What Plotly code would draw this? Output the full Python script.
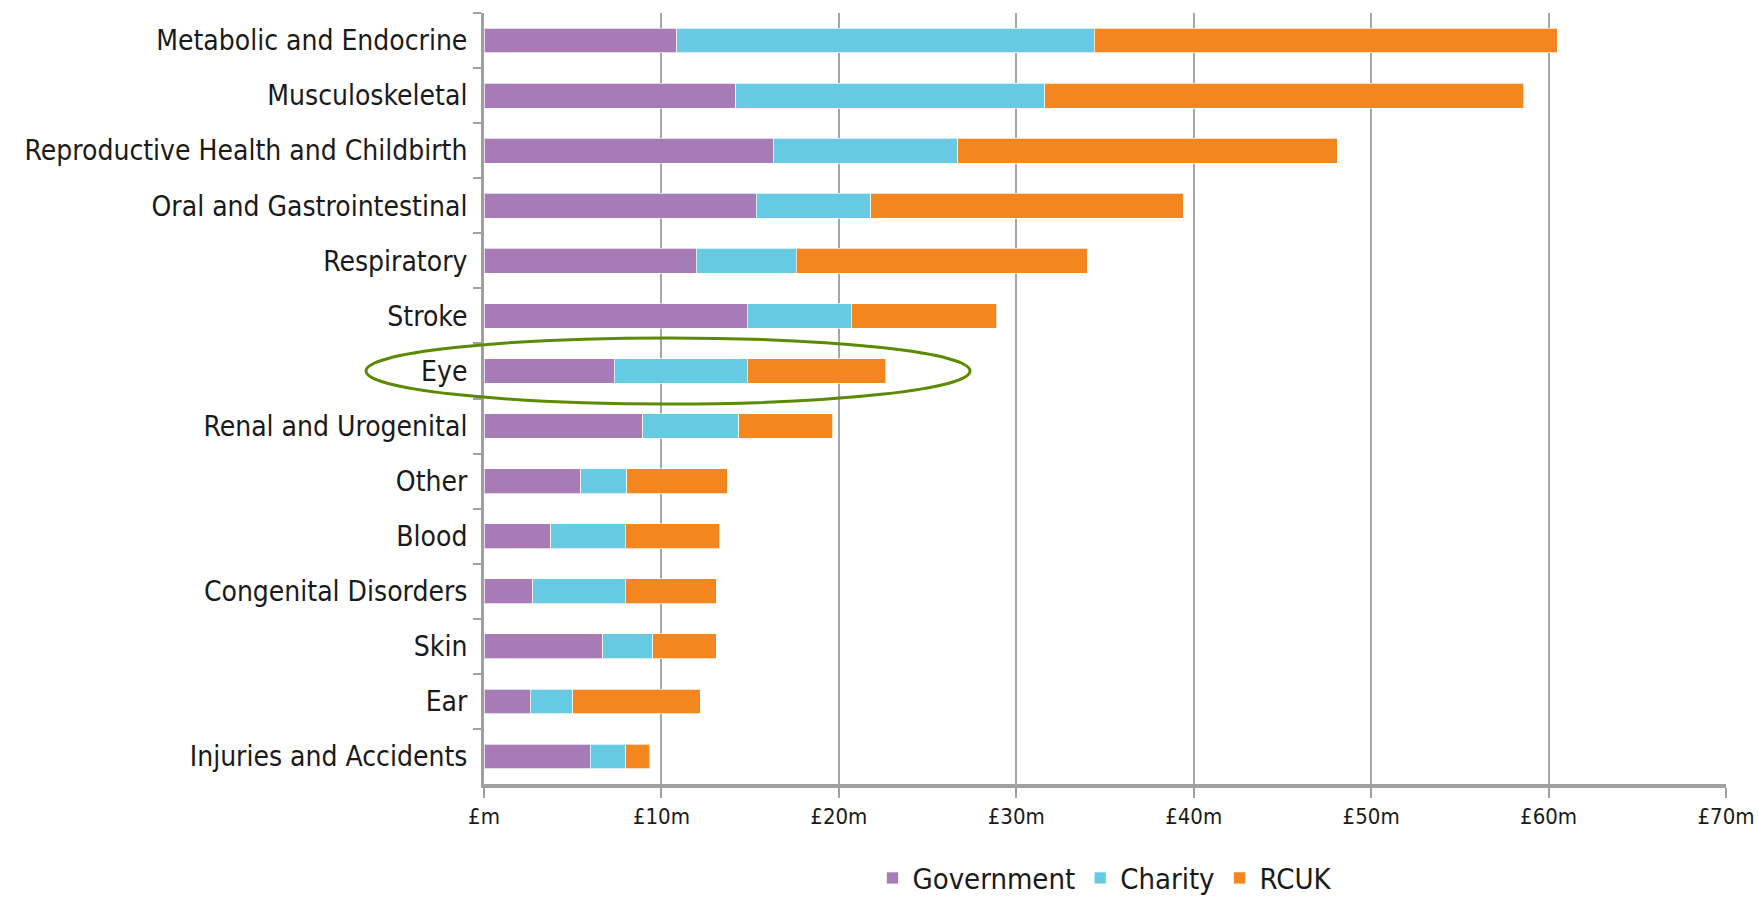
import plotly.graph_objects as go

categories = ["Metabolic and Endocrine", "Musculoskeletal", "Reproductive Health and Childbirth",
              "Oral and Gastrointestinal", "Respiratory", "Stroke", "Eye", "Renal and Urogenital",
              "Other", "Blood", "Congenital Disorders", "Skin", "Ear", "Injuries and Accidents"]
government = [10.85, 14.2, 16.3, 15.35, 11.95, 14.85, 7.35, 8.95, 5.45, 3.75, 2.75, 6.7, 2.6, 6.0]
charity = [23.55, 17.4, 10.4, 6.45, 5.65, 5.85, 7.5, 5.4, 2.6, 4.2, 5.2, 2.8, 2.4, 2.0]
rcuk = [26.1, 27.0, 21.4, 17.6, 16.4, 8.2, 7.8, 5.3, 5.65, 5.35, 5.15, 3.6, 7.2, 1.35]
series_names = ["Government", "Charity", "RCUK"]
series_colors = ["#A77BB6", "#66CAE3", "#F48620"]
tick_values = [0, 10, 20, 30, 40, 50, 60, 70]
tick_labels = ["£m", "£10m", "£20m", "£30m", "£40m", "£50m", "£60m", "£70m"]
highlight = "Eye"

FONT = "DejaVu Sans Condensed, Liberation Sans Narrow, sans-serif"
W, H = 1758, 898
ML, MR, MT, MB = 484, 32, 13, 114

fig = go.Figure()
for name, vals, col in zip(series_names, [government, charity, rcuk], series_colors):
    fig.add_trace(go.Bar(
        y=categories, x=vals, name=name, orientation="h",
        marker=dict(color=col, line=dict(color="rgba(255,255,255,0.7)", width=1)),
    ))

# highlight ellipse around the "Eye" row (paper coordinates derived from category index)
n = len(categories)
idx = categories.index(highlight)
yc = 1 - (idx + 0.5) / n
half_h = 0.6 / n
plot_w = W - ML - MR
x_left = (366 - ML) / plot_w
x_right = (970 - ML) / plot_w
fig.add_shape(type="circle", xref="paper", yref="paper",
              x0=x_left, x1=x_right, y0=yc - half_h, y1=yc + half_h,
              line=dict(color="#5B8A00", width=3), fillcolor="rgba(0,0,0,0)", layer="above")

fig.update_layout(
    width=W, height=H,
    margin=dict(l=ML, r=MR, t=MT, b=MB, autoexpand=False),
    barmode="stack", bargap=0.55,
    plot_bgcolor="white", paper_bgcolor="white",
    font=dict(family=FONT, size=28, color="#1a1a1a"),
    showlegend=True,
    legend=dict(orientation="h", x=0.5, xanchor="center", y=-0.122, yanchor="middle",
                font=dict(family=FONT, size=29, color="#1a1a1a"),
                itemwidth=30, tracegroupgap=0, traceorder="normal"),
    xaxis=dict(range=[0, 70], tickvals=tick_values, ticktext=tick_labels,
               showgrid=True, gridcolor="#A6A6A6", gridwidth=1.5,
               showline=True, linecolor="#A0A0A0", linewidth=4,
               ticks="outside", ticklen=10, tickcolor="#A0A0A0", tickwidth=1.5,
               tickfont=dict(family=FONT, size=22, color="#1a1a1a"),
               automargin=False, ticklabeloverflow="allow",
               zeroline=False, fixedrange=True),
    yaxis=dict(autorange="reversed", type="category",
               showline=True, linecolor="#A0A0A0", linewidth=3,
               ticks="outside", tickson="boundaries", ticklen=8, tickcolor="#A0A0A0", tickwidth=2,
               ticklabelstandoff=8, automargin=False,
               tickfont=dict(family=FONT, size=28, color="#1a1a1a"),
               showgrid=False, zeroline=False, fixedrange=True),
)

fig.write_html("out.html", config={"displayModeBar": False},
               post_script="document.body.style.margin='0';document.body.style.overflow='hidden';")
